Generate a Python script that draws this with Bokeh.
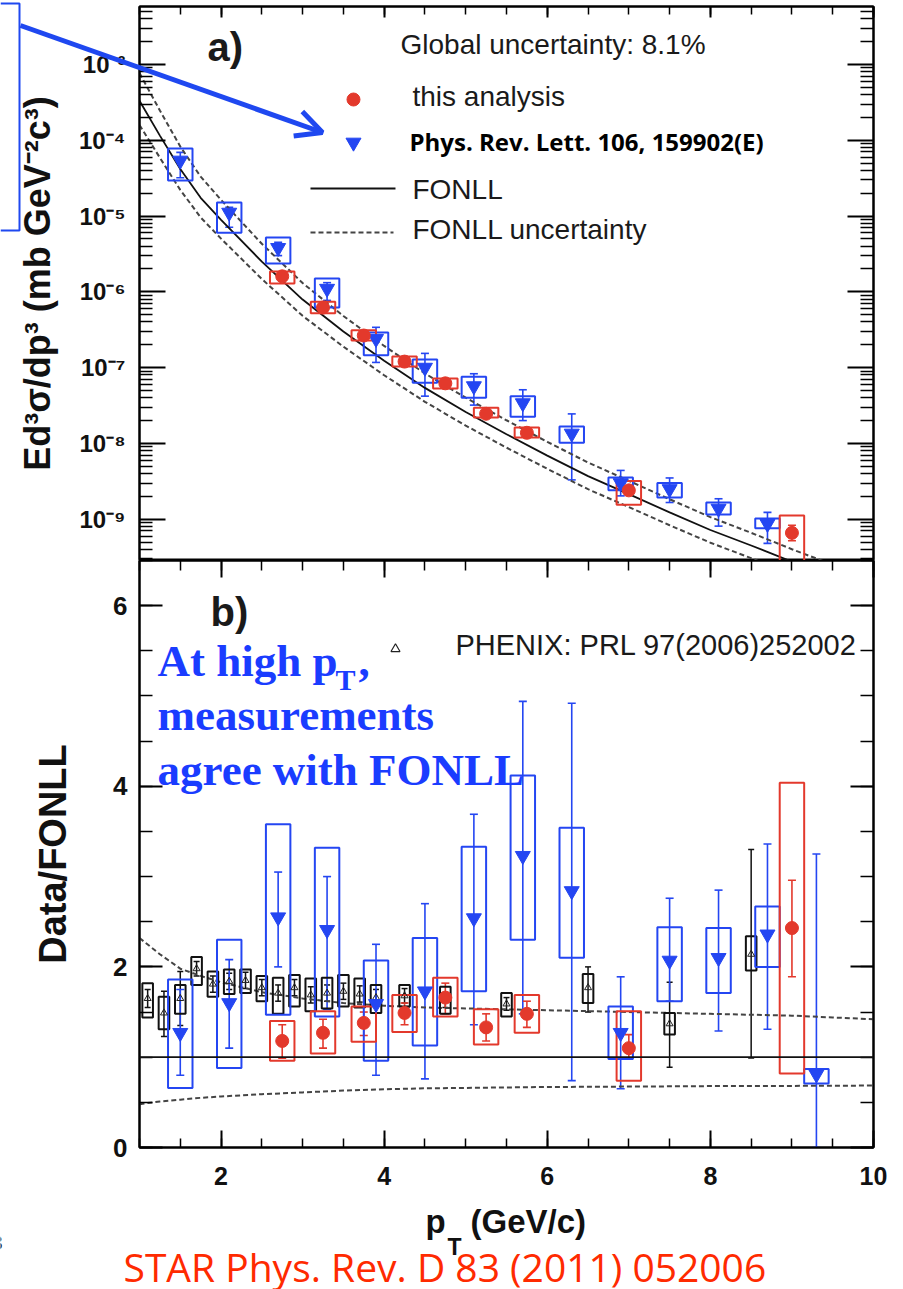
from bokeh.plotting import figure
from bokeh.layouts import column
from bokeh.models import (Range1d, LinearAxis, LogAxis, FixedTicker, SingleIntervalTicker,
                          CustomJSTickFormatter, Whisker, TeeHead, ColumnDataSource, Label,
                          Arrow, OpenHead, Span)
from bokeh.embed import file_html
from bokeh.resources import INLINE

# ---------------- data ----------------
# FONLL curve (top panel, mb GeV^-2 c^3) and its relative uncertainty band
fonll_pt = [1.0, 1.25, 1.5, 1.75, 2.0, 2.5, 3.0, 3.5, 4.0, 4.5, 5.0, 5.5, 6.0, 6.5, 7.0, 7.5, 8.0, 8.5, 9.0, 9.5, 10.0]
fonll_xs = [3.31e-4, 1.15e-4, 4.17e-5, 1.74e-5, 8.9e-6, 2.5e-6, 7.9e-7, 3.0e-7, 1.23e-7, 5.4e-8, 2.6e-8,
            1.32e-8, 6.9e-9, 3.7e-9, 2.14e-9, 1.23e-9, 7.2e-10, 4.5e-10, 2.75e-10, 1.74e-10, 1.1e-10]
fonll_up_ratio = [2.32, 2.14, 1.98, 1.90, 1.83, 1.72, 1.65, 1.60, 1.57, 1.55, 1.54, 1.53, 1.52, 1.51, 1.50,
                  1.49, 1.48, 1.47, 1.46, 1.44, 1.42]
fonll_lo_ratio = [0.48, 0.51, 0.53, 0.55, 0.565, 0.59, 0.61, 0.63, 0.645, 0.655, 0.66, 0.665, 0.67, 0.672,
                  0.675, 0.677, 0.68, 0.68, 0.682, 0.684, 0.686]

# this analysis (STAR), red circles
star_pt = [2.75, 3.25, 3.75, 4.25, 4.75, 5.25, 5.75, 7.0, 9.0]
star_xs = [1.6e-6, 6.2e-7, 2.65e-7, 1.2e-7, 6.2e-8, 2.46e-8, 1.38e-8, 2.4e-9, 6.6e-10]
star_xs_box_lo = [1.29e-6, 5.2e-7, 2.28e-7, 1.03e-7, 5.3e-8, 2.2e-8, 1.2e-8, 1.55e-9, 2.0e-10]
star_xs_box_hi = [1.85e-6, 7.4e-7, 3.1e-7, 1.4e-7, 7.2e-8, 2.95e-8, 1.62e-8, 3.2e-9, 1.12e-9]
star_xs_err_lo = [1.5e-6, 5.8e-7, 2.5e-7, 1.13e-7, 5.8e-8, 2.3e-8, 1.3e-8, 2.1e-9, 5.2e-10]
star_xs_err_hi = [1.7e-6, 6.6e-7, 2.8e-7, 1.27e-7, 6.6e-8, 2.6e-8, 1.46e-8, 2.75e-9, 8.3e-10]
star_ratio = [1.18, 1.27, 1.38, 1.49, 1.66, 1.33, 1.48, 1.10, 2.43]
star_ratio_box_lo = [0.96, 1.04, 1.17, 1.28, 1.45, 1.14, 1.27, 0.74, 0.82]
star_ratio_box_hi = [1.40, 1.51, 1.56, 1.69, 1.88, 1.53, 1.69, 1.51, 4.04]
star_ratio_err_lo = [0.99, 1.10, 1.24, 1.36, 1.48, 1.18, 1.33, 0.98, 1.89]
star_ratio_err_hi = [1.36, 1.42, 1.50, 1.60, 1.82, 1.48, 1.62, 1.25, 2.96]

# Phys. Rev. Lett. 106, 159902(E), blue inverted triangles
prl_pt = [1.5, 2.1, 2.7, 3.3, 3.9, 4.5, 5.1, 5.7, 6.3, 6.9, 7.5, 8.1, 8.7]
prl_xs = [5.4e-5, 1.11e-5, 3.8e-6, 1.1e-6, 2.4e-7, 1.0e-7, 5.7e-8, 3.4e-8, 1.35e-8, 3.0e-9, 2.5e-9, 1.38e-9, 8.7e-10]
prl_xs_box_lo = [2.95e-5, 6.0e-6, 2.37e-6, 6.2e-7, 1.45e-7, 6.3e-8, 4.0e-8, 2.25e-8, 1.02e-8, 2.4e-9, 1.93e-9, 1.15e-9, 7.6e-10]
prl_xs_box_hi = [7.8e-5, 1.51e-5, 5.2e-6, 1.5e-6, 2.9e-7, 1.28e-7, 7.6e-8, 4.2e-8, 1.67e-8, 3.55e-9, 3.0e-9, 1.66e-9, 1.02e-9]
prl_xs_err_lo = [3.2e-5, 7.1e-6, 3.0e-6, 7.7e-7, 1.17e-7, 4.2e-8, 3.2e-8, 2.0e-8, 3.3e-9, 2.03e-9, 1.66e-9, 8.1e-10, 4.8e-10]
prl_xs_err_hi = [6.9e-5, 1.3e-5, 4.5e-6, 1.32e-6, 3.4e-7, 1.54e-7, 8.3e-8, 5.1e-8, 2.45e-8, 4.4e-9, 3.5e-9, 1.86e-9, 1.23e-9]
prl_ratio_pt = [1.5, 2.1, 2.7, 3.3, 3.9, 4.5, 5.1, 5.7, 6.3, 6.9, 7.5, 8.1, 8.7, 9.3]
prl_ratio = [1.27, 1.60, 2.55, 2.41, 1.59, 1.73, 2.54, 3.23, 2.84, 1.27, 2.07, 2.10, 2.36, 0.81]
prl_ratio_box_lo = [0.66, 0.88, 1.47, 1.45, 0.96, 1.13, 1.73, 2.30, 2.10, 0.98, 1.62, 1.71, 2.00, 0.71]
prl_ratio_box_hi = [1.86, 2.30, 3.58, 3.32, 2.07, 2.32, 3.33, 4.12, 3.54, 1.56, 2.44, 2.43, 2.67, 0.87]
prl_ratio_err_lo = [0.80, 1.10, 2.00, 1.53, 0.80, 0.76, 1.36, 1.48, 0.74, 0.65, 1.62, 1.29, 1.31, 0.0]
prl_ratio_err_hi = [1.75, 2.08, 3.05, 3.00, 2.25, 2.70, 3.69, 4.94, 4.92, 1.89, 2.76, 2.85, 3.36, 3.25]

# PHENIX: PRL 97 (2006) 252002, black open triangles (data / FONLL)
phx_pt = [1.1, 1.3, 1.5, 1.7, 1.9, 2.1, 2.3, 2.5, 2.7, 2.9, 3.1, 3.3, 3.5, 3.7, 3.9, 4.25, 4.75, 5.5, 6.5, 7.5, 8.5]
phx_ratio = [1.65, 1.49, 1.65, 1.98, 1.81, 1.84, 1.85, 1.77, 1.71, 1.77, 1.69, 1.71, 1.73, 1.70, 1.66, 1.68,
             1.63, 1.59, 1.77, 1.37, 2.14]
phx_box_lo = [1.44, 1.31, 1.48, 1.80, 1.67, 1.70, 1.71, 1.62, 1.48, 1.56, 1.51, 1.54, 1.56, 1.55, 1.49, 1.56,
              1.48, 1.45, 1.60, 1.25, 1.96]
phx_box_hi = [1.82, 1.67, 1.80, 2.11, 1.95, 1.97, 1.97, 1.90, 1.88, 1.91, 1.87, 1.88, 1.91, 1.87, 1.80, 1.80,
              1.78, 1.71, 1.92, 1.49, 2.34]
phx_err_lo = [1.55, 1.23, 1.35, 1.90, 1.72, 1.75, 1.76, 1.68, 1.62, 1.68, 1.60, 1.62, 1.64, 1.61, 1.57, 1.60,
              1.55, 1.52, 1.50, 0.89, 0.99]
phx_err_hi = [1.75, 1.73, 1.95, 2.06, 1.90, 1.93, 1.94, 1.86, 1.80, 1.86, 1.78, 1.80, 1.82, 1.79, 1.75, 1.76,
              1.71, 1.66, 2.00, 1.83, 3.30]

y_top_ticks = [10.0 ** e for e in range(-10, -1)]
y_top_minor = [m * 10.0 ** e for e in range(-10, -1) for m in range(2, 10)]

# ---------------- styles ----------------
RED = "#e3392c"
BLUE = "#2446f2"
ANN_BLUE = "#1a3cff"
ARROW_BLUE = "#1f48f0"
STAR_RED = "#ff2a00"
DASH_COL = "#444444"
HW_BOX = 0.15
HW_PHX = 0.065
SANS = "Liberation Sans"
SERIF = "Liberation Serif"
BASE_SHIFT = 0.39   # label anchor sits this fraction of the font size above the glyph baseline

blank_fmt = CustomJSTickFormatter(code="return '';")


# page-pixel -> data helpers for annotation placement (layout only)
def xd(px):
    return 1 + (px - 139) / 81.56


def yd_top(py):
    return 10 ** (-6 - (py - 291.3) / 75.8)


def yd_bot(py):
    return (1146.5 - py) / 90.3


def yd_page(py):
    return py


def style_axis(ax, tin, tmin, label_size="25px", show_labels=True, standoff=12):
    ax.major_tick_in = tin
    ax.major_tick_out = 0
    ax.minor_tick_in = tmin
    ax.minor_tick_out = 0
    ax.major_tick_line_width = 2
    ax.minor_tick_line_width = 1.5
    ax.axis_line_width = 2
    ax.axis_line_color = "black"
    ax.major_tick_line_color = "black"
    ax.minor_tick_line_color = "black"
    if show_labels:
        ax.major_label_text_font = SANS
        ax.major_label_text_font_style = "bold"
        ax.major_label_text_font_size = label_size
        ax.major_label_text_color = "#111111"
        ax.major_label_standoff = standoff
    else:
        ax.formatter = blank_fmt
        ax.major_label_text_font_size = "1px"
        ax.major_label_standoff = 0


def add_label(fig, text, x, base_py, size_px, ymap, color="#1a1a1a", font=SANS, style="normal"):
    y = ymap(base_py - BASE_SHIFT * size_px)
    fig.add_layout(Label(x=x, y=y, text=text, text_font_size=f"{size_px}px", text_color=color,
                         text_font=font, text_font_style=style, text_align="left",
                         text_baseline="alphabetic"))


x_range = Range1d(1, 10)

# ================= top panel =================
p1 = figure(width=903, height=560, x_range=x_range, y_range=Range1d(10 ** -9.545, 10 ** -2.236),
            y_axis_type="log", x_axis_location="above", output_backend="svg", toolbar_location=None,
            min_border_left=139, min_border_right=30, min_border_top=6, min_border_bottom=0)
p1.xgrid.visible = False
p1.ygrid.visible = False
p1.outline_line_color = "black"
p1.outline_line_width = 2
p1.background_fill_color = "white"
p1.border_fill_color = "white"

pow_fmt = CustomJSTickFormatter(code="""
const e = Math.round(Math.log10(tick));
const m = {'-':'\u207b','0':'\u2070','1':'\u00b9','2':'\u00b2','3':'\u00b3','4':'\u2074','5':'\u2075','6':'\u2076','7':'\u2077','8':'\u2078','9':'\u2079'};
return '10' + String(e).split('').map(c => m[c]).join('');
""")
p1.yaxis.ticker = FixedTicker(ticks=y_top_ticks, minor_ticks=y_top_minor)
p1.yaxis.formatter = pow_fmt
style_axis(p1.yaxis[0], 26, 13, label_size="24px", standoff=14)
p1.yaxis.axis_label = "Ed\u00b3\u03c3/dp\u00b3 (mb GeV\u207b\u00b2c\u00b3)"
p1.yaxis.axis_label_text_font = SANS
p1.yaxis.axis_label_text_font_style = "bold"
p1.yaxis.axis_label_text_font_size = "36px"
p1.yaxis.axis_label_text_color = "#111111"
p1.yaxis.axis_label_standoff = 18

p1.xaxis.ticker = SingleIntervalTicker(interval=2, num_minor_ticks=4)
style_axis(p1.xaxis[0], 11, 8, show_labels=False)

r_ax1 = LogAxis(ticker=FixedTicker(ticks=y_top_ticks, minor_ticks=y_top_minor))
style_axis(r_ax1, 26, 13, show_labels=False)
p1.add_layout(r_ax1, "right")

# FONLL curves
fonll_up = [c * r for c, r in zip(fonll_xs, fonll_up_ratio)]
fonll_lo = [c * r for c, r in zip(fonll_xs, fonll_lo_ratio)]
p1.line(fonll_pt, fonll_up, line_color=DASH_COL, line_width=2, line_dash="5 3")
p1.line(fonll_pt, fonll_lo, line_color=DASH_COL, line_width=2, line_dash="5 3")
p1.line(fonll_pt, fonll_xs, line_color="#111111", line_width=1.8)

# boxes
p1.quad(left=[x - HW_BOX for x in prl_pt], right=[x + HW_BOX for x in prl_pt],
        bottom=prl_xs_box_lo, top=prl_xs_box_hi, fill_color=None, line_color=BLUE, line_width=2)
p1.quad(left=[x - HW_BOX for x in star_pt], right=[x + HW_BOX for x in star_pt],
        bottom=star_xs_box_lo, top=star_xs_box_hi, fill_color=None, line_color=RED, line_width=2)

src_prl_top = ColumnDataSource(dict(x=prl_pt, lo=prl_xs_err_lo, hi=prl_xs_err_hi))
p1.add_layout(Whisker(source=src_prl_top, base="x", lower="lo", upper="hi", line_color=BLUE, line_width=1.6,
                      upper_head=TeeHead(size=8, line_color=BLUE, line_width=1.6),
                      lower_head=TeeHead(size=8, line_color=BLUE, line_width=1.6)))
src_star_top = ColumnDataSource(dict(x=star_pt, lo=star_xs_err_lo, hi=star_xs_err_hi))
p1.add_layout(Whisker(source=src_star_top, base="x", lower="lo", upper="hi", line_color=RED, line_width=1.6,
                      upper_head=TeeHead(size=8, line_color=RED, line_width=1.6),
                      lower_head=TeeHead(size=8, line_color=RED, line_width=1.6)))

p1.scatter(prl_pt, prl_xs, marker="inverted_triangle", size=15, fill_color=BLUE, line_color=BLUE)
p1.scatter(star_pt, star_xs, marker="circle", size=13, fill_color=RED, line_color=RED)

# legend (drawn by hand to match the original layout)
p1.scatter([xd(353)], [yd_top(99)], marker="circle", size=13, fill_color=RED, line_color=RED)
p1.scatter([xd(353)], [yd_top(142)], marker="inverted_triangle", size=15, fill_color=BLUE, line_color=BLUE)
p1.line([xd(310), xd(395)], [yd_top(188), yd_top(188)], line_color="#111111", line_width=1.8)
p1.line([xd(310), xd(393)], [yd_top(232), yd_top(232)], line_color=DASH_COL, line_width=2, line_dash="5 3")

add_label(p1, "a)", xd(207), 62, 40, yd_top, style="bold")
add_label(p1, "Global uncertainty: 8.1%", xd(400), 55, 28, yd_top)
add_label(p1, "this analysis", xd(412), 107, 28, yd_top)
add_label(p1, "Phys. Rev. Lett. 106, 159902(E)", xd(409), 150, 24, yd_top, color="#000000",
          font="Open Sans", style="bold")
add_label(p1, "FONLL", xd(412), 200, 28, yd_top)
add_label(p1, "FONLL uncertainty", xd(412), 240, 28, yd_top)

# ================= bottom panel =================
p2 = figure(width=903, height=729, x_range=x_range, y_range=Range1d(0, 6.5),
            output_backend="svg", toolbar_location=None,
            min_border_left=139, min_border_right=30, min_border_top=0, min_border_bottom=142)
p2.xgrid.visible = False
p2.ygrid.visible = False
p2.outline_line_color = "black"
p2.outline_line_width = 2
p2.background_fill_color = "white"
p2.border_fill_color = "white"

p2.xaxis.ticker = SingleIntervalTicker(interval=2, num_minor_ticks=4)
style_axis(p2.xaxis[0], 17, 9, label_size="25px", standoff=19)
p2.yaxis.ticker = SingleIntervalTicker(interval=2, num_minor_ticks=4)
style_axis(p2.yaxis[0], 23, 13, label_size="26px", standoff=12)
p2.yaxis.axis_label = "Data/FONLL"
p2.yaxis.axis_label_text_font = SANS
p2.yaxis.axis_label_text_font_style = "bold"
p2.yaxis.axis_label_text_font_size = "38px"
p2.yaxis.axis_label_text_color = "#111111"
p2.yaxis.axis_label_standoff = 36

a_ax2 = LinearAxis(ticker=SingleIntervalTicker(interval=2, num_minor_ticks=4))
style_axis(a_ax2, 17, 10, show_labels=False)
p2.add_layout(a_ax2, "above")
r_ax2 = LinearAxis(ticker=SingleIntervalTicker(interval=2, num_minor_ticks=4))
style_axis(r_ax2, 23, 13, show_labels=False)
p2.add_layout(r_ax2, "right")

p2.line(fonll_pt, fonll_up_ratio, line_color=DASH_COL, line_width=2, line_dash="5 3")
p2.line(fonll_pt, fonll_lo_ratio, line_color=DASH_COL, line_width=2, line_dash="5 3")
p2.add_layout(Span(location=1, dimension="width", line_color="#111111", line_width=1.8))

p2.quad(left=[x - HW_PHX for x in phx_pt], right=[x + HW_PHX for x in phx_pt],
        bottom=phx_box_lo, top=phx_box_hi, fill_color=None, line_color="#111111", line_width=2)
p2.quad(left=[x - HW_BOX for x in prl_ratio_pt], right=[x + HW_BOX for x in prl_ratio_pt],
        bottom=prl_ratio_box_lo, top=prl_ratio_box_hi, fill_color=None, line_color=BLUE, line_width=2)
p2.quad(left=[x - HW_BOX for x in star_pt], right=[x + HW_BOX for x in star_pt],
        bottom=star_ratio_box_lo, top=star_ratio_box_hi, fill_color=None, line_color=RED, line_width=2)

src_phx = ColumnDataSource(dict(x=phx_pt, lo=phx_err_lo, hi=phx_err_hi))
p2.add_layout(Whisker(source=src_phx, base="x", lower="lo", upper="hi", line_color="#111111", line_width=1.5,
                      upper_head=TeeHead(size=6, line_color="#111111", line_width=1.5),
                      lower_head=TeeHead(size=6, line_color="#111111", line_width=1.5)))
src_prl_bot = ColumnDataSource(dict(x=prl_ratio_pt, lo=prl_ratio_err_lo, hi=prl_ratio_err_hi))
p2.add_layout(Whisker(source=src_prl_bot, base="x", lower="lo", upper="hi", line_color=BLUE, line_width=1.6,
                      upper_head=TeeHead(size=8, line_color=BLUE, line_width=1.6),
                      lower_head=TeeHead(size=8, line_color=BLUE, line_width=1.6)))
src_star_bot = ColumnDataSource(dict(x=star_pt, lo=star_ratio_err_lo, hi=star_ratio_err_hi))
p2.add_layout(Whisker(source=src_star_bot, base="x", lower="lo", upper="hi", line_color=RED, line_width=1.6,
                      upper_head=TeeHead(size=8, line_color=RED, line_width=1.6),
                      lower_head=TeeHead(size=8, line_color=RED, line_width=1.6)))

p2.scatter(phx_pt, phx_ratio, marker="triangle", size=7, fill_color=None, line_color="#222222", line_width=1)
p2.scatter(prl_ratio_pt, prl_ratio, marker="inverted_triangle", size=15, fill_color=BLUE, line_color=BLUE)
p2.scatter(star_pt, star_ratio, marker="circle", size=13, fill_color=RED, line_color=RED)

# legend entry for PHENIX
p2.scatter([xd(395)], [yd_bot(648)], marker="triangle", size=9, fill_color=None, line_color="#222222",
           line_width=1.2)
add_label(p2, "PHENIX: PRL 97(2006)252002", xd(455), 655, 29, yd_bot)
add_label(p2, "b)", xd(210), 627, 40, yd_bot, style="bold")

# blue slide annotation
add_label(p2, "At high p", xd(157), 678, 45, yd_bot, color=ANN_BLUE, font=SERIF, style="bold")
add_label(p2, "T", xd(335), 690, 30, yd_bot, color=ANN_BLUE, font=SERIF, style="bold")
add_label(p2, ",", xd(358), 678, 45, yd_bot, color=ANN_BLUE, font=SERIF, style="bold")
add_label(p2, "measurements", xd(157), 732, 45, yd_bot, color=ANN_BLUE, font=SERIF, style="bold")
add_label(p2, "agree with FONLL", xd(157), 787, 45, yd_bot, color=ANN_BLUE, font=SERIF, style="bold")

# ================= page overlay (page-pixel coordinates, y downwards) =================
ov = figure(width=903, height=1289, x_range=Range1d(0, 903), y_range=Range1d(1289, 0), output_backend="svg",
            toolbar_location=None, x_axis_location=None, y_axis_location=None, min_border=0,
            sizing_mode="fixed")
ov.frame_align = False
ov.xgrid.visible = False
ov.ygrid.visible = False
ov.outline_line_color = None
ov.background_fill_alpha = 0
ov.border_fill_alpha = 0
ov.styles = {"position": "absolute", "top": "0px", "left": "0px", "z-index": "10",
             "width": "903px", "height": "1289px"}

# cropped blue box and arrow of the slide
ov.line([0, 19, 19, 0], [3, 3, 230, 230], line_color=ARROW_BLUE, line_width=2)
ov.add_layout(Arrow(end=OpenHead(size=26, line_color=ARROW_BLUE, line_width=5),
                    x_start=20, y_start=25, x_end=322, y_end=132,
                    line_color=ARROW_BLUE, line_width=5))
# x-axis title (with subscript) and slide footer
add_label(ov, "p", 425, 1234, 33, yd_page, color="#111111", style="bold")
add_label(ov, "T", 447, 1255, 23, yd_page, color="#111111", style="bold")
add_label(ov, "(GeV/c)", 470, 1234, 33, yd_page, color="#111111", style="bold")
add_label(ov, "STAR Phys. Rev. D 83 (2011) 052006", 123, 1281, 39, yd_page, color=STAR_RED, font="Open Sans")
add_label(ov, "3", -9, 1250, 20, yd_page, color="#111111", font="Open Sans")

layout = column(p1, p2, ov, spacing=0)
open("out.html", "w").write(file_html(layout, INLINE))
